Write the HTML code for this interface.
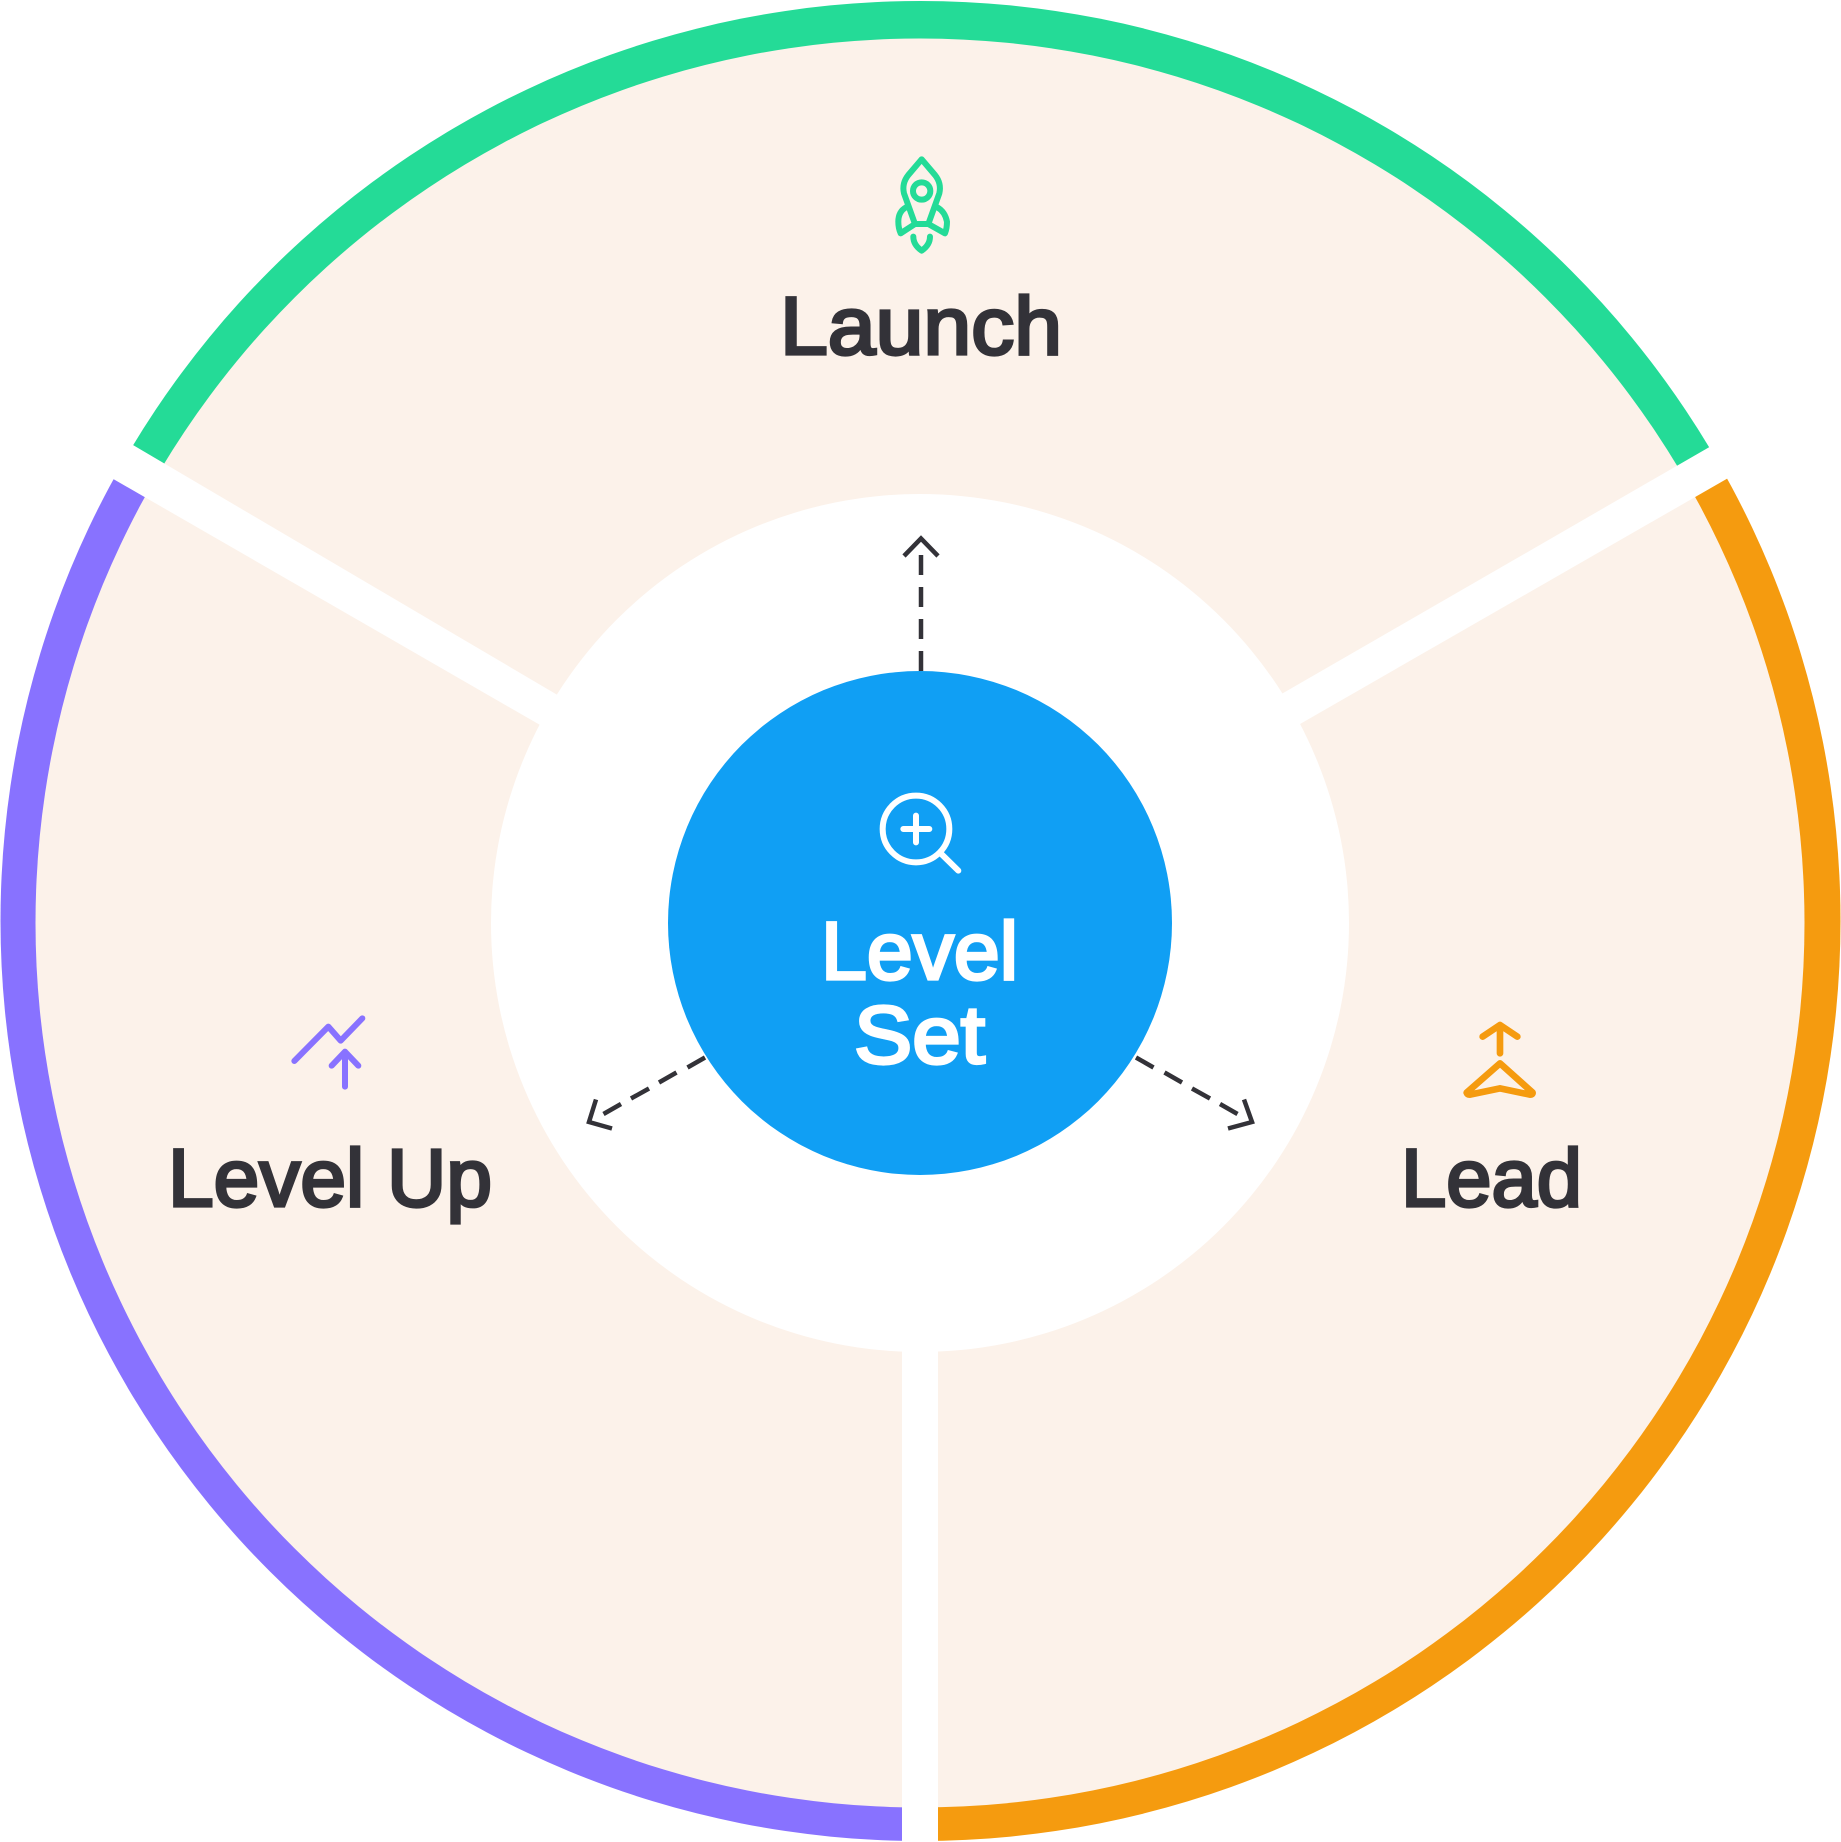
<!DOCTYPE html>
<html><head><meta charset="utf-8"><style>html,body{margin:0;padding:0;background:#fff;overflow:hidden}svg{display:block}text{font-family:"Liberation Sans",sans-serif;font-weight:400;fill:#333238;stroke:#333238;stroke-width:3.2px;stroke-linejoin:miter;stroke-miterlimit:2}</style></head><body>
<svg width="1841" height="1842" viewBox="0 0 1841 1842" xmlns="http://www.w3.org/2000/svg">
<defs><clipPath id="o"><circle cx="920.5" cy="921" r="920"/></clipPath></defs>
<rect width="1841" height="1842" fill="#fff"/>
<g clip-path="url(#o)">
<polygon points="920,923 0,391 0,0 1841,0 1841,391" fill="#24db97"/>
<polygon points="920,923 0,391 0,1842 920,1842" fill="#8872ff"/>
<polygon points="920,923 1841,391 1841,1842 920,1842" fill="#f59b0f"/>
</g>
<circle cx="920" cy="923" r="884.500" fill="#fcf2ea"/>
<polygon points="83,415.600 600,720 580,748 63,450" fill="#fff"/>
<polygon points="1758,419 1240,718 1260,747 1777,450" fill="#fff"/>
<rect x="902" y="1300" width="36" height="542" fill="#fff"/>
<circle cx="920" cy="923" r="429" fill="#fff"/>
<circle cx="920" cy="923" r="252" fill="#109ff4"/>
<g fill="none" stroke="#333238" stroke-width="4.5">
<path d="M921 671V555" stroke-dasharray="20 12"/>
<path d="M904 556L921 538.500L938 556"/>
<path d="M705 1057.500L687.500 1067.500M676.500 1072.500L659 1082.500M649 1088.500L631 1098.500M621 1104L603.500 1114"/>
<path d="M596 1099.500L589 1122L612 1128.500"/>
<path d="M1136 1057.500L1153.500 1067.500M1164.500 1072.500L1182 1082.500M1192 1088.500L1210 1098.500M1220 1104L1237.500 1114"/>
<path d="M1244 1099.500L1252 1122L1228 1128.500"/>
</g>
<g transform="translate(820 130) scale(.3333)" fill="none" stroke="#24db97" stroke-width="18" stroke-linecap="round" stroke-linejoin="round">
<path d="M305 88L265 135Q245 160 252 190L285 282H325L358 190Q365 160 345 135Z"/>
<circle cx="305" cy="183" r="26"/>
<path d="M258 232Q235 245 235 275Q235 295 242 310L285 282"/>
<path d="M352 232Q375 245 381 275Q381 295 375 310L325 282"/>
<path d="M280 320Q280 345 305 362Q330 345 330 320"/>
</g>
<g transform="translate(850 770) scale(.3333)" fill="none" stroke="#fff" stroke-width="18" stroke-linecap="round">
<circle cx="198" cy="177" r="100"/>
<path d="M272 250L325 302M160 177H238M198 137V217"/>
</g>
<g transform="translate(270 1000) scale(.3333)" fill="none" stroke="#8872ff" stroke-width="18" stroke-linecap="round" stroke-linejoin="round">
<path d="M73 183L175 80L212 122L277 55"/>
<path d="M185 197L225 155L265 197M225 155V260"/>
</g>
<g transform="translate(1440 1000) scale(.3333)" fill="none" stroke="#f59b0f" stroke-width="20" stroke-linecap="round" stroke-linejoin="round">
<path d="M128 110L180 75L232 110M180 75V160"/>
<path d="M180 190L80 278Q82 284 90 284L180 265L270 284Q278 284 278 278Z"/>
</g>
<text x="780" y="354" font-size="82" textLength="282" lengthAdjust="spacingAndGlyphs">Launch</text>
<text x="168" y="1206" font-size="82" textLength="324" lengthAdjust="spacingAndGlyphs">Level Up</text>
<text x="1401" y="1206" font-size="82" textLength="181" lengthAdjust="spacingAndGlyphs">Lead</text>
<text x="821" y="979" font-size="82" textLength="197" lengthAdjust="spacingAndGlyphs" style="fill:#fff;stroke:#fff">Level</text>
<text x="854" y="1063" font-size="82" textLength="131" lengthAdjust="spacingAndGlyphs" style="fill:#fff;stroke:#fff">Set</text>
</svg>
</body></html>
